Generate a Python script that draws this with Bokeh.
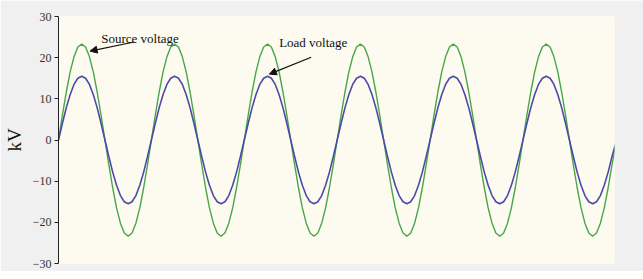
import numpy as np
from bokeh.plotting import figure
from bokeh.models import Range1d, Arrow, NormalHead, Label, FixedTicker
from bokeh.embed import file_html
from bokeh.resources import INLINE

# One sample every 15 degrees of a 50 Hz cycle, six cycles (kV)
source_kv = [
    0, 6.0, 11.6, 16.5, 20.2, 22.6, 23.3, 22.6, 20.2, 16.5, 11.6, 6.0,
    0, -6.0, -11.6, -16.5, -20.2, -22.6, -23.4, -22.6, -20.2, -16.5, -11.6, -6.0,
    0, 6.0, 11.6, 16.5, 20.2, 22.6, 23.3, 22.6, 20.2, 16.5, 11.6, 6.0,
    0, -6.0, -11.6, -16.5, -20.2, -22.6, -23.4, -22.6, -20.2, -16.5, -11.6, -6.0,
    0, 6.0, 11.6, 16.5, 20.2, 22.6, 23.3, 22.6, 20.2, 16.5, 11.6, 6.0,
    0, -6.0, -11.6, -16.5, -20.2, -22.6, -23.4, -22.6, -20.2, -16.5, -11.6, -6.0,
    0, 6.0, 11.6, 16.5, 20.2, 22.6, 23.3, 22.6, 20.2, 16.5, 11.6, 6.0,
    0, -6.0, -11.6, -16.5, -20.2, -22.6, -23.4, -22.6, -20.2, -16.5, -11.6, -6.0,
    0, 6.0, 11.6, 16.5, 20.2, 22.6, 23.3, 22.6, 20.2, 16.5, 11.6, 6.0,
    0, -6.0, -11.6, -16.5, -20.2, -22.6, -23.4, -22.6, -20.2, -16.5, -11.6, -6.0,
    0, 6.0, 11.6, 16.5, 20.2, 22.6, 23.3, 22.6, 20.2, 16.5, 11.6, 6.0,
    0, -6.0, -11.6, -16.5, -20.2, -22.6, -23.4, -22.6, -20.2, -16.5, -11.6, -6.0,
    -1.0,
]
load_kv = [
    0, 4.0, 7.8, 11.0, 13.5, 15.0, 15.5, 15.0, 13.5, 11.0, 7.8, 4.0,
    0, -4.0, -7.8, -11.0, -13.5, -15.0, -15.5, -15.0, -13.5, -11.0, -7.8, -4.0,
    0, 4.0, 7.8, 11.0, 13.5, 15.0, 15.5, 15.0, 13.5, 11.0, 7.8, 4.0,
    0, -4.0, -7.8, -11.0, -13.5, -15.0, -15.5, -15.0, -13.5, -11.0, -7.8, -4.0,
    0, 4.0, 7.8, 11.0, 13.5, 15.0, 15.5, 15.0, 13.5, 11.0, 7.8, 4.0,
    0, -4.0, -7.8, -11.0, -13.5, -15.0, -15.5, -15.0, -13.5, -11.0, -7.8, -4.0,
    0, 4.0, 7.8, 11.0, 13.5, 15.0, 15.5, 15.0, 13.5, 11.0, 7.8, 4.0,
    0, -4.0, -7.8, -11.0, -13.5, -15.0, -15.5, -15.0, -13.5, -11.0, -7.8, -4.0,
    0, 4.0, 7.8, 11.0, 13.5, 15.0, 15.5, 15.0, 13.5, 11.0, 7.8, 4.0,
    0, -4.0, -7.8, -11.0, -13.5, -15.0, -15.5, -15.0, -13.5, -11.0, -7.8, -4.0,
    0, 4.0, 7.8, 11.0, 13.5, 15.0, 15.5, 15.0, 13.5, 11.0, 7.8, 4.0,
    0, -4.0, -7.8, -11.0, -13.5, -15.0, -15.5, -15.0, -13.5, -11.0, -7.8, -4.0,
    -0.7,
]
time_s = [i * 0.02 / 24 for i in range(len(source_kv))]
y_ticks = [-30, -20, -10, 0, 10, 20, 30]

p = figure(frame_width=556, frame_height=247, output_backend="svg",
           toolbar_location=None,
           x_range=Range1d(0, 0.1197), y_range=Range1d(-30, 30),
           min_border_left=47, min_border_right=29,
           min_border_top=16, min_border_bottom=8)
p.background_fill_color = "#fdfaf0"
p.border_fill_color = "#f0f0f0"
p.outline_line_color = None
p.grid.visible = False
p.xaxis.visible = False

ya = p.yaxis[0]
ya.ticker = FixedTicker(ticks=y_ticks)
ya.minor_tick_line_color = None
ya.major_tick_in = 0
ya.major_tick_out = 4
ya.major_label_standoff = 3
ya.axis_line_color = "#222222"
ya.major_tick_line_color = "#222222"
ya.major_label_text_font = "Liberation Sans Narrow"
ya.major_label_text_font_size = "12px"
ya.major_label_text_color = "#333333"
ya.axis_label = "kV"
ya.axis_label_text_font = "Liberation Serif"
ya.axis_label_text_font_style = "normal"
ya.axis_label_text_font_size = "19px"
ya.axis_label_text_color = "#111111"
ya.axis_label_standoff = 5

p.line(time_s, source_kv, line_color="#47a747", line_width=1.4)
p.line(time_s, load_kv, line_color="#4c4aa8", line_width=1.6)

p.add_layout(Label(x=0.0092, y=24.6, text="Source voltage", text_font="Liberation Serif",
                   text_font_size="13px", text_baseline="middle", text_color="#111111"))
p.add_layout(Label(x=0.0475, y=23.8, text="Load voltage", text_font="Liberation Serif",
                   text_font_size="13px", text_baseline="middle", text_color="#111111"))
p.add_layout(Arrow(x_start=0.0163, y_start=23.8, x_end=0.0068, y_end=21.6,
                   line_width=1.2, line_color="#111111",
                   end=NormalHead(size=7, fill_color="#111111", line_color="#111111")))
p.add_layout(Arrow(x_start=0.0544, y_start=20.1, x_end=0.0454, y_end=16.0,
                   line_width=1.2, line_color="#111111",
                   end=NormalHead(size=7, fill_color="#111111", line_color="#111111")))

open("out.html", "w").write(file_html(p, INLINE))
